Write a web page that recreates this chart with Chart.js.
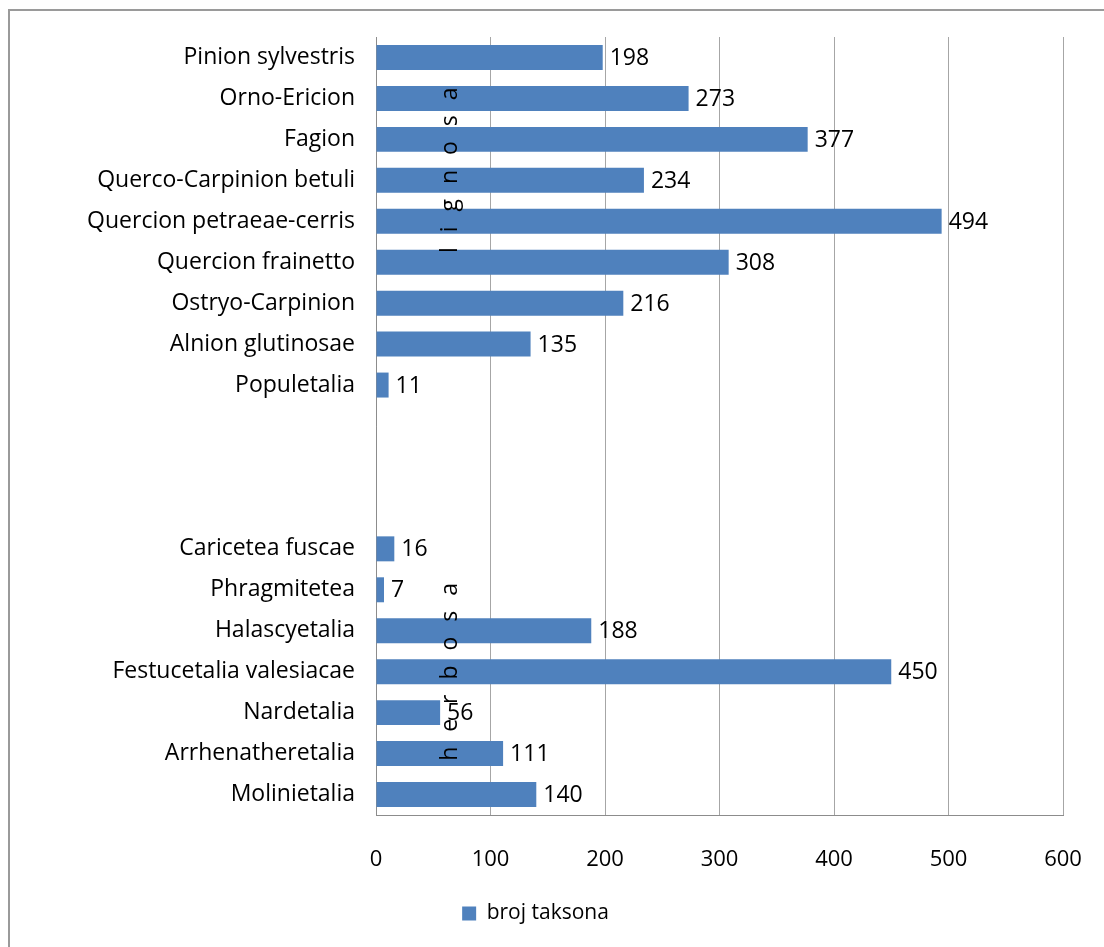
<!DOCTYPE html>
<html>
<head>
<meta charset="utf-8">
<script src="https://cdn.jsdelivr.net/npm/chart.js@4"></script>
<style>
  html, body { margin: 0; padding: 0; background: #fff; }
  #wrap { position: relative; width: 1104px; height: 947px; overflow: hidden; }
  #frame { position: absolute; left: 8px; top: 9px; width: 1200px; height: 1000px; border: 2px solid #9a9a9a; box-sizing: border-box; }
  canvas { position: absolute; left: 0; top: 0; }
</style>
</head>
<body>
<div id="wrap">
  <div id="frame"></div>
  <canvas id="chart" width="1104" height="947"></canvas>
</div>
<script>
// kategorije (prazna mjesta razdvajaju lignosa / herbosa)
const categories = [
  "Pinion sylvestris", "Orno-Ericion", "Fagion", "Querco-Carpinion betuli",
  "Quercion petraeae-cerris", "Quercion frainetto", "Ostryo-Carpinion",
  "Alnion glutinosae", "Populetalia", "", "", "",
  "Caricetea fuscae", "Phragmitetea", "Halascyetalia", "Festucetalia valesiacae",
  "Nardetalia", "Arrhenatheretalia", "Molinietalia"
];
const brojTaksona = [198, 273, 377, 234, 494, 308, 216, 135, 11, null, null, null,
  16, 7, 188, 450, 56, 111, 140];
const xTicks = [0, 100, 200, 300, 400, 500, 600];
const groupLabels = ["l i g n o s a", "h e r b o s a"];

const FONT = "'Open Sans', Lato, sans-serif";

// brojevi na kraju stupaca
const valueLabels = {
  id: "valueLabels",
  afterDatasetsDraw(chart) {
    const ctx = chart.ctx;
    const meta = chart.getDatasetMeta(0);
    ctx.save();
    ctx.font = "23px " + FONT;
    ctx.fillStyle = "#000";
    ctx.textBaseline = "middle";
    ctx.textAlign = "left";
    meta.data.forEach((bar, i) => {
      const v = brojTaksona[i];
      if (v === null) return;
      ctx.fillText(String(v), bar.x + 7, bar.y + 1);
    });
    ctx.restore();
  }
};

// okomiti natpisi grupa
const groupText = {
  id: "groupText",
  afterDraw(chart) {
    const ctx = chart.ctx;
    const x = chart.scales.x.getPixelForValue(65);
    const y = chart.scales.y;
    const spots = [y.getPixelForValue(2.7), y.getPixelForValue(14.95)];
    ctx.save();
    ctx.font = "23px " + FONT;
    ctx.letterSpacing = "4.5px";
    ctx.fillStyle = "#000";
    ctx.textAlign = "center";
    ctx.textBaseline = "middle";
    groupLabels.forEach((t, i) => {
      ctx.save();
      ctx.translate(x, spots[i]);
      ctx.rotate(-Math.PI / 2);
      ctx.fillText(t, 0, 0);
      ctx.restore();
    });
    ctx.restore();
  }
};

new Chart(document.getElementById("chart"), {
  type: "bar",
  data: {
    labels: categories,
    datasets: [{
      label: "broj taksona",
      data: brojTaksona,
      backgroundColor: "#4F81BD",
      borderWidth: 0,
      barPercentage: 0.61,
      categoryPercentage: 1.0
    }]
  },
  options: {
    indexAxis: "y",
    responsive: false,
    animation: false,
    layout: { padding: { left: 8, right: 41, top: 37, bottom: 13 } },
    scales: {
      x: {
        min: 0,
        max: 600,
        afterBuildTicks(scale) { scale.ticks = xTicks.map(v => ({ value: v })); },
        afterFit(scale) {
          scale.height = 78;
          scale.paddingLeft = 0;
          scale.paddingRight = 0;
        },
        grid: { color: "#a6a6a6", lineWidth: 1, drawTicks: false },
        border: { color: "#8c8c8c", width: 1 },
        ticks: { color: "#000", font: { family: FONT, size: 22 }, padding: 32 }
      },
      y: {
        afterFit(scale) { scale.width = 368; },
        grid: { display: false, drawTicks: false },
        border: { color: "#8c8c8c", width: 1 },
        ticks: { color: "#000", font: { family: FONT, size: 23 }, padding: 21, autoSkip: false }
      }
    },
    plugins: {
      legend: {
        position: "bottom",
        labels: {
          color: "#000",
          font: { family: FONT, size: 21 },
          boxWidth: 14,
          boxHeight: 14,
          padding: 10
        }
      },
      tooltip: { enabled: false }
    }
  },
  plugins: [valueLabels, groupText]
});
</script>
</body>
</html>
